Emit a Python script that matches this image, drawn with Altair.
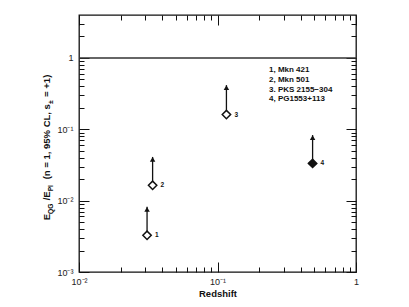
import altair as alt
import pandas as pd

# ---- data ----
redshift = [0.031, 0.034, 0.116, 0.486]
ratio = [0.00327, 0.0164, 0.161, 0.0333]
arrow_tip = [0.0082, 0.041, 0.416, 0.083]
point_label = ["1", "2", "3", "4"]
filled = [False, False, False, True]
legend_lines = ["1, Mkn 421", "2, Mkn 501", "3. PKS 2155\u2212304", "4, PG1553+113"]

x_major = [0.01, 0.1, 1.0]
x_minor = [0.02, 0.03, 0.04, 0.05, 0.06, 0.07, 0.08, 0.09,
           0.2, 0.3, 0.4, 0.5, 0.6, 0.7, 0.8, 0.9]
y_major = [0.001, 0.01, 0.1, 1.0]
y_minor = [0.002, 0.003, 0.004, 0.005, 0.006, 0.007, 0.008, 0.009,
           0.02, 0.03, 0.04, 0.05, 0.06, 0.07, 0.08, 0.09,
           0.2, 0.3, 0.4, 0.5, 0.6, 0.7, 0.8, 0.9, 2.0, 3.0]

X_DOM = [0.01, 1.0]
Y_DOM = [0.001, 4.0]

W, H = 277, 257
FONT = "Liberation Sans"
INK = "#111"

pts = pd.DataFrame({"z": redshift, "r": ratio, "tip": arrow_tip,
                    "lab": point_label, "filled": filled})

xs = alt.Scale(type="log", domain=X_DOM)
ys = alt.Scale(type="log", domain=Y_DOM)

x_lab_expr = "datum.value < 0.05 ? '10⁻²' : (datum.value < 0.5 ? '10⁻¹' : '1')"
y_lab_expr = ("datum.value < 0.005 ? '10⁻³' : (datum.value < 0.05 ? '10⁻²' : "
              "(datum.value < 0.5 ? '10⁻¹' : '1'))")

base = alt.Chart(pts)


def tick_axis(orient, vals, length, labels=False, **kw):
    # axis pulled inside the frame so that its outward ticks end on the frame
    return alt.Axis(orient=orient, values=vals, ticks=True, tickSize=length,
                    offset=-length, tickColor=INK, tickWidth=1, domain=False,
                    grid=False, labels=labels, **kw)


lab_style = dict(labelFont=FONT, labelFontSize=9, labelColor="#222", labelFlush=False)

# main axes (major ticks bottom/left, with labels)
axes_main = base.mark_point(opacity=0).encode(
    x=alt.X("z:Q", scale=xs, axis=tick_axis(
        "bottom", x_major, 10, labels=True, labelExpr=x_lab_expr, labelPadding=5,
        title="Redshift", titleFont=FONT, titleFontSize=9.5, titleFontWeight="bold",
        titleColor=INK, titlePadding=2, **lab_style)),
    y=alt.Y("r:Q", scale=ys, axis=tick_axis(
        "left", y_major, 10, labels=True, labelExpr=y_lab_expr, labelPadding=6,
        title=None, **lab_style)),
)
# minor ticks bottom/left
axes_minor = base.mark_point(opacity=0).encode(
    x=alt.X("z:Q", scale=xs, axis=tick_axis("bottom", x_minor, 5, title=None)),
    y=alt.Y("r:Q", scale=ys, axis=tick_axis("left", y_minor, 5, title=None)),
)
# major ticks top/right
axes_major2 = base.mark_point(opacity=0).encode(
    x=alt.X("z:Q", scale=xs, axis=tick_axis("top", x_major, 10, title=None)),
    y=alt.Y("r:Q", scale=ys, axis=tick_axis("right", y_major, 10, title=None)),
)
# minor ticks top/right
axes_minor2 = base.mark_point(opacity=0).encode(
    x=alt.X("z:Q", scale=xs, axis=tick_axis("top", x_minor, 5, title=None)),
    y=alt.Y("r:Q", scale=ys, axis=tick_axis("right", y_minor, 5, title=None)),
)

layers = [axes_main, axes_minor, axes_major2, axes_minor2]

# horizontal line at 1
one = alt.Chart(pd.DataFrame({"v": [1.0]})).mark_rule(color="#333", strokeWidth=1.6).encode(
    y=alt.Y("v:Q", scale=ys, axis=None))
layers.append(one)

# arrows
shaft = base.mark_rule(color=INK, strokeWidth=1.3).encode(
    x=alt.X("z:Q", scale=xs, axis=None), y=alt.Y("r:Q", scale=ys, axis=None), y2="tip:Q")
head = base.mark_point(shape="triangle-up", filled=True, color=INK, size=30,
                       yOffset=2.5, opacity=1).encode(
    x=alt.X("z:Q", scale=xs, axis=None), y=alt.Y("tip:Q", scale=ys, axis=None))
layers += [shaft, head]

# diamonds
open_d = base.transform_filter("!datum.filled").mark_point(
    shape="diamond", filled=True, fill="white", stroke=INK, strokeWidth=1.5,
    size=70, opacity=1).encode(x=alt.X("z:Q", scale=xs, axis=None),
                               y=alt.Y("r:Q", scale=ys, axis=None))
full_d = base.transform_filter("datum.filled").mark_point(
    shape="diamond", filled=True, fill=INK, stroke=INK, strokeWidth=1.5,
    size=70, opacity=1).encode(x=alt.X("z:Q", scale=xs, axis=None),
                               y=alt.Y("r:Q", scale=ys, axis=None))
layers += [open_d, full_d]

labels = base.mark_text(font=FONT, fontSize=6.5, fontWeight="bold", color=INK,
                        align="left", baseline="middle", dx=8).encode(
    x=alt.X("z:Q", scale=xs, axis=None), y=alt.Y("r:Q", scale=ys, axis=None), text="lab:N")
layers.append(labels)

# legend text block
for i, line in enumerate(legend_lines):
    layers.append(alt.Chart(pd.DataFrame({"t": [line]})).mark_text(
        font=FONT, fontSize=8, fontWeight="bold", color=INK, align="left",
        baseline="middle").encode(text="t:N", x=alt.value(190), y=alt.value(55 + 9.8 * i)))

# rotated y-axis title with subscripts (gaps handled by offsets, not spaces)
widths = {"E": .667, "Q": .778, "G": .778, " ": .278, "/": .278, "P": .667, "l": .278,
          "(": .333, "n": .611, "=": .584, "1": .556, ",": .278, "9": .556, "5": .556,
          "%": .889, "C": .722, "L": .611, "s": .556, "±": .584, "+": .584, ")": .333}
F = 9.5
pieces = [("E", False, 0), ("QG", True, 0.35), ("/E", False, 0), ("Pl", True, 0.6),
          ("(n = 1, 95% CL, s", False, 0), ("±", True, 0.35), ("= +1)", False, 0)]


def wid(t, size):
    return sum(widths.get(ch, .55) for ch in t) * size


total = sum(wid(t, F * 0.7 if sub else F) + gap * F for t, sub, gap in pieces)
pos = H / 2 + 4 + total / 2
for t, sub, gap in pieces:
    size = F * 0.7 if sub else F
    layers.append(alt.Chart(pd.DataFrame({"t": [t]})).mark_text(
        font=FONT, fontSize=size, fontWeight="bold", color=INK, angle=270,
        align="left", baseline="alphabetic").encode(
        text="t:N", x=alt.value(-29 + (3 if sub else 0)), y=alt.value(pos)))
    pos -= wid(t, size) + gap * F

chart = alt.layer(*layers).resolve_axis(x="independent", y="independent").properties(
    width=W, height=H,
    autosize=alt.AutoSizeParams(type="none"),
    padding={"left": 71, "top": 7, "right": 45, "bottom": 27},
    background="white",
).configure_view(stroke=INK, strokeWidth=1.3)

chart.save("out.html", embed_options={"renderer": "svg", "actions": False})
